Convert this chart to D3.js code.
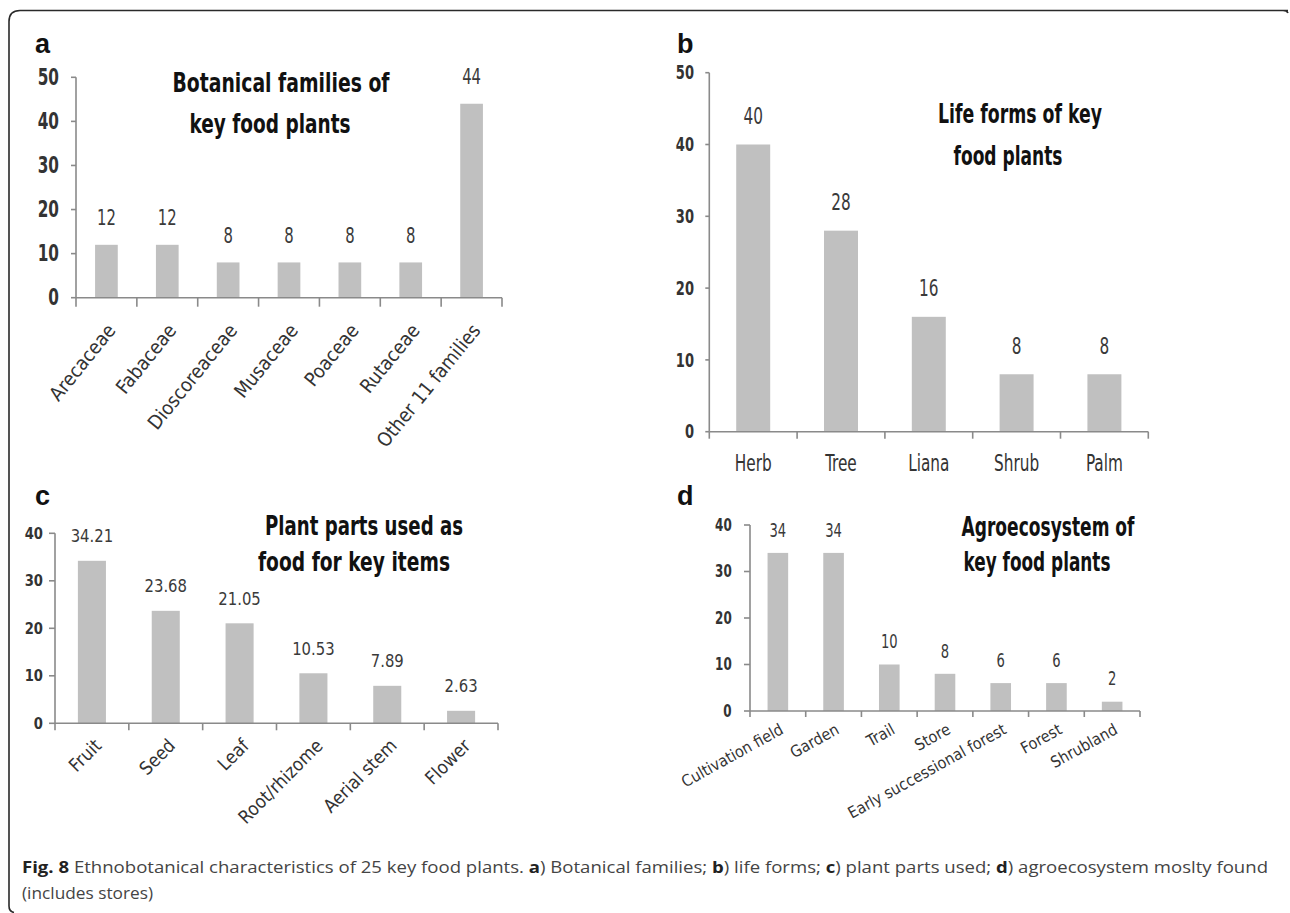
<!DOCTYPE html>
<html><head><meta charset="utf-8">
<script src="https://cdn.jsdelivr.net/npm/d3@7"></script>
<style>body{margin:0;background:#fff}svg{display:block}</style>
</head><body>
<svg id="chart" width="1290" height="913"></svg>
<script>
// ---------- data ----------
const famCats = ["Arecaceae","Fabaceae","Dioscoreaceae","Musaceae","Poaceae","Rutaceae","Other 11 families"];
const famVals = [12,12,8,8,8,8,44];
const famTicks = [0,10,20,30,40,50];
const famTitle = ["Botanical families of","key food plants"];

const lifeCats = ["Herb","Tree","Liana","Shrub","Palm"];
const lifeVals = [40,28,16,8,8];
const lifeTicks = [0,10,20,30,40,50];
const lifeTitle = ["Life forms of key","food plants"];

const partCats = ["Fruit","Seed","Leaf","Root/rhizome","Aerial stem","Flower"];
const partVals = [34.21,23.68,21.05,10.53,7.89,2.63];
const partTicks = [0,10,20,30,40];
const partTitle = ["Plant parts used as","food for key items"];

const agroCats = ["Cultivation field","Garden","Trail","Store","Early successional forest","Forest","Shrubland"];
const agroVals = [34,34,10,8,6,6,2];
const agroTicks = [0,10,20,30,40];
const agroTitle = ["Agroecosystem of","key food plants"];

const captionLine1 = [
  ["Fig. 8", true], [" Ethnobotanical characteristics of 25 key food plants. ", false],
  ["a", true], [") Botanical families; ", false], ["b", true], [") life forms; ", false],
  ["c", true], [") plant parts used; ", false], ["d", true], [") agroecosystem moslty found", false]
];
const captionLine2 = "(includes stores)";

// ---------- layout ----------
const FONT = '"DejaVu Sans Condensed","Liberation Sans Narrow","Open Sans",sans-serif';
const svg = d3.select("#chart");

const panels = [
  {letter:"a", lx:35, ly:53, cats:famCats, vals:famVals, ticks:famTicks, fmt:d3.format("d"), max:50,
   x0:76, x1:502, y0:297.7, yTop:77.3, pad:0.627, sy:1.3, tickFs:17, valFs:16.5, catFs:19.5,
   rot:51, catDx:5, catDy:29, gap:27, tickLblX:59, ytick:5, xtick:9, horizontal:false,
   title:famTitle, tpos:[[281,82,217],[270,123,161]]},
  {letter:"b", lx:677, ly:53, cats:lifeCats, vals:lifeVals, ticks:lifeTicks, fmt:d3.format("d"), max:50,
   x0:709.3, x1:1148.3, y0:431.7, yTop:72.7, pad:0.613, sy:1.3, tickFs:14.5, valFs:17, catFs:17,
   rot:0, catDx:0, catDy:31.6, gap:28, tickLblX:694, ytick:4, xtick:7, horizontal:true,
   title:lifeTitle, tpos:[[1020,113,164],[1008,155,109]]},
  {letter:"c", lx:35, ly:505, cats:partCats, vals:partVals, ticks:partTicks, fmt:d3.format(".2f"), max:40,
   x0:55, x1:498, y0:723.3, yTop:533.3, pad:0.62, sy:1.1, tickFs:14.6, valFs:16.5, catFs:18.5,
   rot:45, catDx:6, catDy:19, gap:25, tickLblX:43, ytick:6, xtick:7, horizontal:false,
   title:partTitle, tpos:[[364,525,198],[354,561.7,192]]},
  {letter:"d", lx:677, ly:505, cats:agroCats, vals:agroVals, ticks:agroTicks, fmt:d3.format("d"), max:40,
   x0:750, x1:1140, y0:711, yTop:525, pad:0.63, sy:1.3, tickFs:13.3, valFs:14.6, catFs:16,
   rot:29, catDx:4, catDy:17, gap:23, tickLblX:731.7, ytick:6, xtick:6, horizontal:false,
   title:agroTitle, tpos:[[1048,526.7,173],[1037,561.7,147]]}
];

// frame
svg.append("path")
  .attr("d","M1288,10.5 L20,10.5 Q9,10.5 9,21.5 L9,906 Q9,911.5 14,912.5 M1283,10.5 Q1287,10.5 1288,13")
  .attr("fill","none").attr("stroke","#2a2a2a").attr("stroke-width",1.6);

panels.forEach(p => {
  const g = svg.append("g");
  const x = d3.scaleBand().domain(p.cats).range([p.x0, p.x1])
    .paddingInner(p.pad).paddingOuter(p.pad / 2);
  const y = d3.scaleLinear().domain([0, p.max]).range([p.y0, p.yTop]);
  const step = x.step();

  // bars
  g.selectAll("rect.bar").data(p.vals).join("rect").attr("class","bar")
    .attr("x",(d,i)=>x(p.cats[i])).attr("width",x.bandwidth())
    .attr("y",d=>y(d)).attr("height",d=>y(0)-y(d))
    .attr("fill","#c0c0c0");

  // y axis
  const axisCol = "#8a8a8a";
  g.append("line").attr("x1",p.x0).attr("x2",p.x0).attr("y1",y(0)).attr("y2",y(p.max))
    .attr("stroke",axisCol).attr("stroke-width",1.6);
  g.selectAll("line.yt").data(p.ticks).join("line").attr("class","yt")
    .attr("x1",p.x0-p.ytick).attr("x2",p.x0).attr("y1",d=>y(d)).attr("y2",d=>y(d))
    .attr("stroke",axisCol).attr("stroke-width",1.6);
  g.selectAll("text.ytl").data(p.ticks).join("text").attr("class","ytl")
    .attr("transform",d=>`translate(${p.tickLblX},${y(d)}) scale(1,${p.sy})`)
    .attr("text-anchor","end").attr("dominant-baseline","central")
    .attr("font-family",FONT).attr("font-weight","bold").attr("font-size",p.tickFs)
    .attr("fill","#333").text(d=>d);

  // x axis
  g.append("line").attr("x1",p.x0).attr("x2",p.x1).attr("y1",y(0)).attr("y2",y(0))
    .attr("stroke",axisCol).attr("stroke-width",1.6);
  const bounds = p.cats.map(c => x(c) - (step - x.bandwidth())/2);
  bounds.push(p.x1);
  g.selectAll("line.xt").data(bounds).join("line").attr("class","xt")
    .attr("x1",d=>d).attr("x2",d=>d).attr("y1",y(0)).attr("y2",y(0)+p.xtick)
    .attr("stroke",axisCol).attr("stroke-width",1.6);

  // value labels
  g.selectAll("text.val").data(p.vals).join("text").attr("class","val")
    .attr("transform",(d,i)=>`translate(${x(p.cats[i])+x.bandwidth()/2},${y(d)-p.gap}) scale(1,${p.sy})`)
    .attr("text-anchor","middle").attr("dominant-baseline","central")
    .attr("font-family",FONT).attr("font-size",p.valFs).attr("fill","#3a3a3a")
    .text(d=>p.fmt(d));

  // category labels
  g.selectAll("text.cat").data(p.cats).join("text").attr("class","cat")
    .attr("transform",d=>{
      const cx = x(d)+x.bandwidth()/2 + p.catDx;
      const cy = y(0) + p.catDy;
      return p.horizontal ? `translate(${cx},${cy}) scale(1,${p.sy})`
                          : `translate(${cx},${cy}) rotate(${-p.rot})`;
    })
    .attr("text-anchor",p.horizontal?"middle":"end").attr("dominant-baseline","central")
    .attr("font-family",FONT).attr("font-size",p.catFs).attr("fill","#333")
    .text(d=>d);

  // title
  p.title.forEach((t,i)=>{
    const [tx,ty,tw] = p.tpos[i];
    g.append("text").attr("transform",`translate(${tx},${ty}) scale(1,1.3)`)
      .attr("text-anchor","middle").attr("dominant-baseline","central")
      .attr("font-family",FONT).attr("font-weight","bold").attr("font-size",20)
      .attr("textLength",tw).attr("lengthAdjust","spacingAndGlyphs")
      .attr("fill","#111").text(t);
  });

  // panel letter
  g.append("text").attr("x",p.lx).attr("y",p.ly)
    .attr("font-family",'"Liberation Sans",Arial,sans-serif').attr("font-weight","bold")
    .attr("font-size",27).attr("fill","#111").text(p.letter);
});

// caption
const cap = svg.append("text").attr("x",22).attr("y",873)
  .attr("font-family",'"Open Sans",sans-serif').attr("font-size",16.5).attr("fill","#444")
  .attr("textLength",1246).attr("lengthAdjust","spacingAndGlyphs");
cap.selectAll("tspan").data(captionLine1).join("tspan")
  .attr("font-weight",d=>d[1]?"bold":"normal").attr("fill",d=>d[1]?"#222":"#444")
  .text(d=>d[0]);
svg.append("text").attr("x",22).attr("y",899)
  .attr("font-family",'"Open Sans",sans-serif').attr("font-size",16.5).attr("fill","#444")
  .attr("textLength",131).attr("lengthAdjust","spacingAndGlyphs")
  .text(captionLine2);
</script>
</body></html>
